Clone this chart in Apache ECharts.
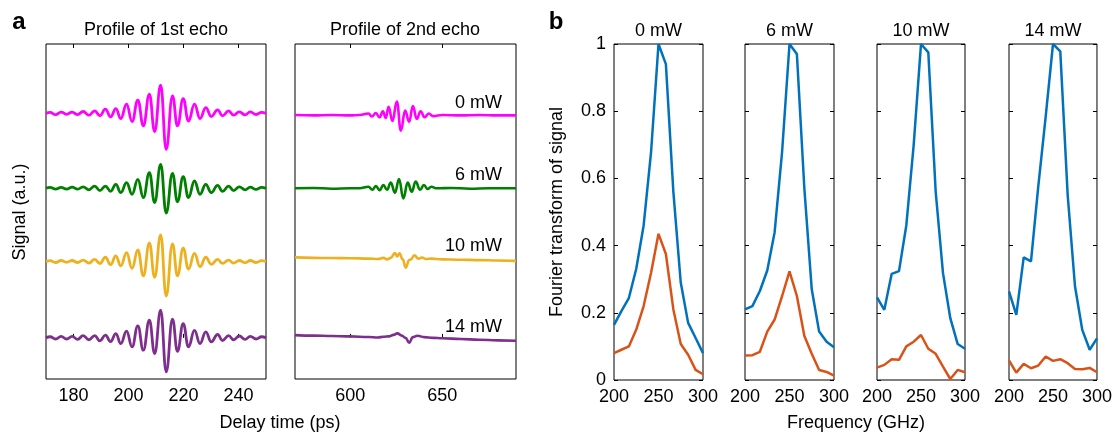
<!DOCTYPE html>
<html><head><meta charset="utf-8">
<script src="https://cdn.jsdelivr.net/npm/echarts@6/dist/echarts.min.js"></script>
<style>html,body{margin:0;padding:0;background:#fff}#c{width:1115px;height:433px}</style>
</head><body><div id="c"></div>
<script>
// ---------- Panel a : profile of 1st echo (time of extrema, values relative to trace baseline)
const T1 = [170,171.5,173.5,175.5,177.5,179.5,181.5,183.5,185.6,187.7,189.6,191.6,193.5,195.4,197.2,199.3,201.3,203.4,205.4,207.6,209.5,211.7,213.7,216.0,217.8,219.9,221.8,224.0,226.0,228.1,230.1,232.4,234.2,236.4,238.2,240.3,242.4,244.3,246.4,248.4,250];
const M1 = [0.0,0.015,-0.015,0.02,-0.01,0.02,-0.015,0.027,-0.022,0.036,-0.03,0.058,-0.045,0.067,-0.067,0.125,-0.107,0.18,-0.165,0.26,-0.24,0.38,-0.48,0.237,-0.165,0.2,-0.1,0.125,-0.067,0.08,-0.04,0.05,-0.03,0.036,-0.022,0.022,-0.018,0.022,-0.013,0.015,0.0];
const G1 = [0.0,0.012,-0.01,0.012,-0.012,0.015,-0.012,0.02,-0.02,0.03,-0.03,0.03,-0.04,0.054,-0.058,0.076,-0.08,0.12,-0.125,0.21,-0.19,0.32,-0.33,0.2,-0.18,0.156,-0.125,0.098,-0.08,0.054,-0.058,0.04,-0.04,0.03,-0.03,0.02,-0.02,0.015,-0.015,0.012,0.0];
const Y1 = [0.0,0.012,-0.012,0.015,-0.01,0.015,-0.012,0.02,-0.02,0.03,-0.025,0.058,-0.04,0.076,-0.058,0.12,-0.09,0.156,-0.19,0.25,-0.21,0.357,-0.46,0.237,-0.19,0.18,-0.1,0.11,-0.067,0.058,-0.036,0.03,-0.025,0.02,-0.02,0.015,-0.015,0.015,-0.012,0.012,0.0];
const P1 = [0.0,0.015,-0.015,0.02,-0.015,0.02,-0.02,0.03,-0.025,0.03,-0.04,0.036,-0.05,0.058,-0.076,0.09,-0.12,0.16,-0.165,0.237,-0.21,0.37,-0.455,0.25,-0.18,0.19,-0.12,0.1,-0.076,0.08,-0.054,0.045,-0.035,0.03,-0.025,0.025,-0.02,0.02,-0.015,0.015,0.0];
// ---------- Panel a : profile of 2nd echo
const TM2 = [570,580,590,600,605,609.9,611.7,613.9,615.9,617.7,619.3,620.8,622.9,625.3,627.5,629.8,632.0,634.0,636.1,638.2,640.4,642.6,645,650,660,670,680,690];
const M2  = [-0.02,-0.025,-0.02,-0.025,-0.02,0.0,-0.04,0.005,-0.05,0.03,-0.06,0.09,-0.1,0.16,-0.23,0.04,-0.11,0.1,-0.07,0.03,-0.05,0.0,-0.035,-0.02,-0.025,-0.02,-0.025,-0.025];
const TG2 = [570,580,590,600,605,609.9,612.0,613.9,616.0,618.0,620.0,622.0,624.3,626.5,628.8,631.2,633.4,635.5,637.9,640.0,642.0,644.0,647,655,665,675,690];
const G2  = [0.0,0.005,-0.005,0.0,0.0,0.02,-0.02,0.03,-0.025,0.045,-0.02,0.076,-0.058,0.125,-0.134,0.076,-0.045,0.09,-0.02,0.045,-0.01,0.02,0.0,0.005,-0.005,0.0,0.0];
const TY2 = [570,580,590,600,610,615,618,620,622,624.3,625.5,626.7,628.5,630.1,632,633,634.8,637,639,641,644,650,660,670,680,690];
const Y2  = [0.056,0.05,0.048,0.045,0.04,0.035,0.05,0.03,0.05,0.115,0.07,0.11,0.03,-0.08,0.02,0.03,0.085,0.04,0.055,0.035,0.04,0.03,0.025,0.02,0.015,0.01];
const TP2 = [570,580,590,600,610,615,618,621,623.5,625.6,628,630,632,634,636.5,640,645,650,660,670,680,690];
const P2  = [0.037,0.03,0.025,0.02,0.012,0.005,0.015,0.02,0.04,0.06,0.03,0.0,-0.065,0.01,0.029,0.01,0.0,-0.005,-0.015,-0.025,-0.033,-0.039];
const OFFSETS = [3, 2, 1.02, 0];          // vertical offsets of the 0, 6, 10, 14 mW traces
const POWERS = ['0 mW', '6 mW', '10 mW', '14 mW'];
const TICKS_A1 = [180, 200, 220, 240];
const TICKS_A2 = [600, 650];
// ---------- Panel b : Fourier transform
const FREQ = [200,208.3,216.7,225,233.3,241.7,250,258.3,266.7,275,283.3,291.7,300];
const B0  = [0.164,0.205,0.244,0.331,0.46,0.68,1.0,0.94,0.56,0.29,0.17,0.125,0.08];
const O0  = [0.08,0.09,0.10,0.15,0.22,0.32,0.435,0.375,0.21,0.107,0.075,0.03,0.017];
const B6  = [0.21,0.22,0.265,0.326,0.44,0.68,1.0,0.97,0.57,0.27,0.144,0.114,0.0975];
const O6  = [0.073,0.074,0.084,0.144,0.18,0.25,0.323,0.25,0.131,0.078,0.03,0.024,0.013];
const B10 = [0.246,0.209,0.316,0.324,0.46,0.7,1.0,0.975,0.56,0.318,0.184,0.107,0.093];
const O10 = [0.037,0.045,0.062,0.06,0.10,0.114,0.134,0.093,0.078,0.04,0.003,0.03,0.023];
const B14 = [0.264,0.194,0.365,0.353,0.577,0.784,1.0,0.978,0.55,0.279,0.149,0.09,0.124];
const O14 = [0.058,0.022,0.048,0.035,0.043,0.07,0.057,0.062,0.05,0.033,0.032,0.036,0.023];

const FONT = '"Liberation Sans", Arial, Helvetica, sans-serif';
const FS = 18;
const TRACE_COLORS = ['#FF00FF', '#008000', '#EDB120', '#7E2F8E'];
const BLUE = '#0072BD', ORANGE = '#D95319';

const grids = [
  {left: 46, top: 44, width: 220, height: 335},
  {left: 295, top: 44, width: 221, height: 335},
  {left: 614, top: 44, width: 89, height: 336},
  {left: 745, top: 44, width: 89, height: 336},
  {left: 877, top: 44, width: 88, height: 336},
  {left: 1009, top: 44, width: 88, height: 336}
].map(g => Object.assign({show: true, borderColor: '#000', borderWidth: 1, backgroundColor: 'transparent', containLabel: false}, g));

const lab = {color: '#000', fontSize: FS, fontFamily: FONT};
function timeAxes(gi, min, max, ticks) {
  return [
    {gridIndex: gi, type: 'value', min, max, position: 'bottom',
     axisLine: {show: false}, splitLine: {show: false},
     axisTick: {show: true, inside: true, length: 4, customValues: ticks, lineStyle: {color: '#000'}},
     axisLabel: Object.assign({customValues: ticks, margin: 8}, lab)},
    {gridIndex: gi, type: 'value', min, max, position: 'top',
     axisLine: {show: false}, splitLine: {show: false},
     axisTick: {show: true, inside: true, length: 4, customValues: ticks, lineStyle: {color: '#000'}},
     axisLabel: {show: false}}
  ];
}
const xAxis = [].concat(timeAxes(0, 170, 250, TICKS_A1), timeAxes(1, 570, 690, TICKS_A2));
for (let k = 0; k < 4; k++) {
  xAxis.push({gridIndex: 2 + k, type: 'value', min: 200, max: 300, interval: 50,
    axisLine: {show: false}, splitLine: {show: false}, axisTick: {show: false},
    axisLabel: Object.assign({margin: 8, showMinLabel: true, showMaxLabel: true}, lab)});
}
const yAxis = [];
for (let k = 0; k < 2; k++) {
  yAxis.push({gridIndex: k, type: 'value', min: -0.55, max: 3.93,
    axisLine: {show: false}, axisTick: {show: false}, axisLabel: {show: false}, splitLine: {show: false}});
}
for (let k = 0; k < 4; k++) {
  yAxis.push({gridIndex: 2 + k, type: 'value', min: 0, max: 1, interval: 0.2, position: 'left',
    axisLine: {show: false}, splitLine: {show: false},
    axisTick: {show: true, inside: true, length: 4, lineStyle: {color: '#000'}},
    axisLabel: Object.assign({show: k === 0, margin: 8}, lab)});
}
for (let k = 0; k < 4; k++) {
  yAxis.push({gridIndex: 2 + k, type: 'value', min: 0, max: 1, interval: 0.2, position: 'right',
    axisLine: {show: false}, splitLine: {show: false},
    axisTick: {show: true, inside: true, length: 4, lineStyle: {color: '#000'}},
    axisLabel: {show: false}});
}

const series = [];
const echo1 = [M1, G1, Y1, P1];
echo1.forEach((vals, i) => series.push({
  type: 'line', xAxisIndex: 0, yAxisIndex: 0, showSymbol: false, smooth: 0.45, smoothMonotone: 'x',
  lineStyle: {color: TRACE_COLORS[i], width: 2.8}, itemStyle: {color: TRACE_COLORS[i]},
  data: T1.map((t, j) => [t, vals[j] + OFFSETS[i]])
}));
const echo2T = [TM2, TG2, TY2, TP2], echo2V = [M2, G2, Y2, P2];
echo2V.forEach((vals, i) => series.push({
  type: 'line', xAxisIndex: 2, yAxisIndex: 1, showSymbol: false, smooth: 0.45, smoothMonotone: 'x',
  lineStyle: {color: TRACE_COLORS[i], width: 2.6}, itemStyle: {color: TRACE_COLORS[i]},
  data: echo2T[i].map((t, j) => [t, vals[j] + OFFSETS[i]])
}));
const blues = [B0, B6, B10, B14], oranges = [O0, O6, O10, O14];
for (let k = 0; k < 4; k++) {
  series.push({type: 'line', xAxisIndex: 4 + k, yAxisIndex: 2 + k, showSymbol: false,
    lineStyle: {color: BLUE, width: 2.5}, itemStyle: {color: BLUE},
    data: FREQ.map((f, j) => [f, blues[k][j]])});
  series.push({type: 'line', xAxisIndex: 4 + k, yAxisIndex: 2 + k, showSymbol: false,
    lineStyle: {color: ORANGE, width: 2.5}, itemStyle: {color: ORANGE},
    data: FREQ.map((f, j) => [f, oranges[k][j]])});
}

function txt(text, x, y, opts) {
  return Object.assign({type: 'text', x, y, silent: true,
    style: Object.assign({text, fill: '#000', font: FS + 'px ' + FONT, textAlign: 'center', textVerticalAlign: 'middle'}, (opts && opts.style) || {})},
    opts && opts.rotation ? {rotation: opts.rotation} : {});
}
const bCenters = [658.5, 789.5, 921, 1053];
const powerY = [103.3, 174.7, 245.7, 326.7];
const graphic = [
  txt('a', 19, 22, {style: {font: 'bold 24px ' + FONT}}),
  txt('b', 556, 22, {style: {font: 'bold 24px ' + FONT}}),
  txt('Profile of 1st echo', 156, 30),
  txt('Profile of 2nd echo', 405, 30),
  txt('Delay time (ps)', 280, 423),
  txt('Frequency (GHz)', 856, 423),
  txt('Signal (a.u.)', 20, 212, {rotation: Math.PI / 2}),
  txt('Fourier transform of signal', 557, 212, {rotation: Math.PI / 2})
];
POWERS.forEach((p, i) => {
  graphic.push(txt(p, bCenters[i], 31.5));
  graphic.push(txt(p, 502, powerY[i], {style: {textAlign: 'right'}}));
});

const chart = echarts.init(document.getElementById('c'), null, {renderer: 'canvas'});
chart.setOption({animation: false, backgroundColor: '#fff', grid: grids, xAxis, yAxis, series, graphic});
</script></body></html>
